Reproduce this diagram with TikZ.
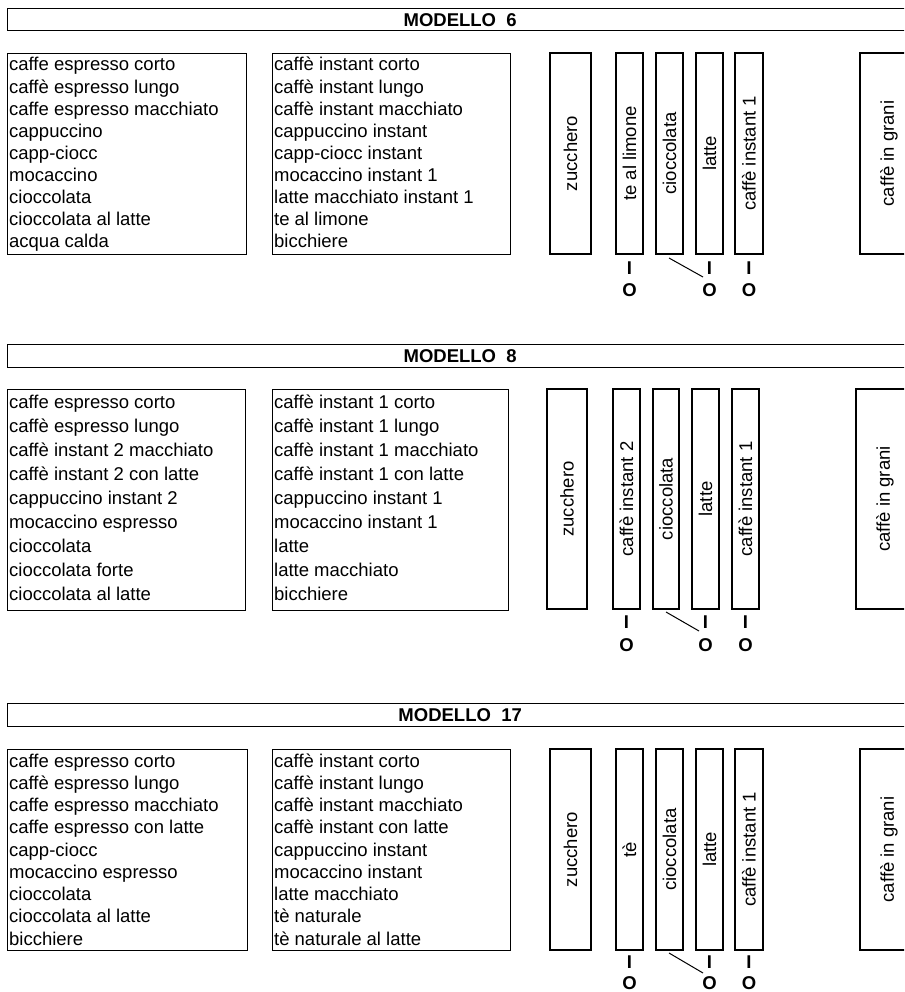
\documentclass[tikz,border=0pt]{standalone}
\usepackage{fontspec}
\setmainfont{Liberation Sans}
\begin{document}
\begin{tikzpicture}[x=1pt,y=-1pt,
  line width=1.3pt,
  every node/.style={font=\fontsize{18.5}{22}\selectfont},
  frame/.style={draw, line width=1.3pt, inner sep=0pt, anchor=north west},
  titlebar/.style={frame, font=\fontsize{18.5}{22}\selectfont\bfseries},
  item/.style={anchor=base west, inner sep=0pt},
  bar/.style={draw, line width=1.3pt, inner sep=0pt, rotate=90},
  io/.style={font=\fontsize{18.5}{22}\selectfont\bfseries, inner sep=0pt},
  link/.style={line width=1pt}
]
\useasboundingbox (0,0) rectangle (904,992);
\clip (0,0) rectangle (904,992);

% ================= MODELLO 6 =================
\node[titlebar, minimum width=905pt, minimum height=22pt] (t1) at (7,8) {MODELLO\ \ 6};
\node[frame, minimum width=239pt, minimum height=201pt] (l1) at (7,53) {};
\node[frame, minimum width=238pt, minimum height=201pt] (r1) at (272,53) {};
\foreach \t [count=\i from 0] in {caffe espresso corto,caffè espresso lungo,caffe espresso macchiato,cappuccino,capp-ciocc,mocaccino,cioccolata,cioccolata al latte,acqua calda}
  \node[item] (l1i\i) at (8.5,71+22.1*\i) {\t};
\foreach \t [count=\i from 0] in {caffè instant corto,caffè instant lungo,caffè instant macchiato,cappuccino instant,capp-ciocc instant,mocaccino instant 1,latte macchiato instant 1,te al limone,bicchiere}
  \node[item] (r1i\i) at (273.5,71+22.1*\i) {\t};
\node[bar, minimum width=201pt, minimum height=41pt] (z1) at (570.5,153.5) {zucchero};
\node[bar, minimum width=201pt, minimum height=27pt] (a1) at (629.5,153.5) {te al limone};
\node[bar, minimum width=201pt, minimum height=27pt] (c1) at (669.5,153.5) {cioccolata};
\node[bar, minimum width=201pt, minimum height=27pt] (m1) at (709.5,153.5) {latte};
\node[bar, minimum width=201pt, minimum height=28pt] (k1) at (749,153.5) {caffè instant 1};
\node[bar, minimum width=201pt, minimum height=58pt] (g1) at (889,153.5) {caffè in grani};
\node[io] (a1I) at (629.5,268) {I};
\node[io] (a1O) at (629.5,290) {O};
\node[io] (m1I) at (709.5,268) {I};
\node[io] (m1O) at (709.5,290) {O};
\node[io] (k1I) at (749,268) {I};
\node[io] (k1O) at (749,290) {O};
\coordinate (d1a) at (669,258);
\coordinate (d1b) at (703,277);
\draw[link] (d1a) -- (d1b);

% ================= MODELLO 8 =================
\node[titlebar, minimum width=905pt, minimum height=23pt] (t2) at (7,344) {MODELLO\ \ 8};
\node[frame, minimum width=238pt, minimum height=221pt] (l2) at (7,389) {};
\node[frame, minimum width=236pt, minimum height=221pt] (r2) at (272,389) {};
\foreach \t [count=\i from 0] in {caffe espresso corto,caffè espresso lungo,caffè instant 2 macchiato,caffè instant 2 con latte,cappuccino instant 2,mocaccino espresso,cioccolata,cioccolata forte,cioccolata al latte}
  \node[item] (l2i\i) at (8.5,408+24.1*\i) {\t};
\foreach \t [count=\i from 0] in {caffè instant 1 corto,caffè instant 1 lungo,caffè instant 1 macchiato,caffè instant 1 con latte,cappuccino instant 1,mocaccino instant 1,latte,latte macchiato,bicchiere}
  \node[item] (r2i\i) at (273.5,408+24.1*\i) {\t};
\node[bar, minimum width=220pt, minimum height=40pt] (z2) at (567,499) {zucchero};
\node[bar, minimum width=220pt, minimum height=27pt] (a2) at (626.5,499) {caffè instant 2};
\node[bar, minimum width=220pt, minimum height=26pt] (c2) at (666,499) {cioccolata};
\node[bar, minimum width=220pt, minimum height=27pt] (m2) at (705.5,499) {latte};
\node[bar, minimum width=220pt, minimum height=27pt] (k2) at (745.5,499) {caffè instant 1};
\node[bar, minimum width=220pt, minimum height=58pt] (g2) at (885,499) {caffè in grani};
\node[io] (a2I) at (626.5,622.5) {I};
\node[io] (a2O) at (626.5,645) {O};
\node[io] (m2I) at (705.5,622.5) {I};
\node[io] (m2O) at (705.5,645) {O};
\node[io] (k2I) at (745.5,622.5) {I};
\node[io] (k2O) at (745.5,645) {O};
\coordinate (d2a) at (666,612);
\coordinate (d2b) at (699,631);
\draw[link] (d2a) -- (d2b);

% ================= MODELLO 17 =================
\node[titlebar, minimum width=905pt, minimum height=23pt] (t3) at (7,703) {MODELLO\ \ 17};
\node[frame, minimum width=240pt, minimum height=201pt] (l3) at (7,749) {};
\node[frame, minimum width=238pt, minimum height=201pt] (r3) at (272,749) {};
\foreach \t [count=\i from 0] in {caffe espresso corto,caffè espresso lungo,caffe espresso macchiato,caffe espresso con latte,capp-ciocc,mocaccino espresso,cioccolata,cioccolata al latte,bicchiere}
  \node[item] (l3i\i) at (8.5,767+22.25*\i) {\t};
\foreach \t [count=\i from 0] in {caffè instant corto,caffè instant lungo,caffè instant macchiato,caffè instant con latte,cappuccino instant,mocaccino instant,latte macchiato,tè naturale,tè naturale al latte}
  \node[item] (r3i\i) at (273.5,767+22.25*\i) {\t};
\node[bar, minimum width=201pt, minimum height=41pt] (z3) at (570.5,849.5) {zucchero};
\node[bar, minimum width=201pt, minimum height=27pt] (a3) at (629.5,849.5) {tè};
\node[bar, minimum width=201pt, minimum height=27pt] (c3) at (669.5,849.5) {cioccolata};
\node[bar, minimum width=201pt, minimum height=27pt] (m3) at (709.5,849.5) {latte};
\node[bar, minimum width=201pt, minimum height=28pt] (k3) at (749,849.5) {caffè instant 1};
\node[bar, minimum width=201pt, minimum height=58pt] (g3) at (889,849.5) {caffè in grani};
\node[io] (a3I) at (629.5,962) {I};
\node[io] (a3O) at (629.5,983.5) {O};
\node[io] (m3I) at (709.5,962) {I};
\node[io] (m3O) at (709.5,983.5) {O};
\node[io] (k3I) at (749,962) {I};
\node[io] (k3O) at (749,983.5) {O};
\coordinate (d3a) at (669,953);
\coordinate (d3b) at (703,973);
\draw[link] (d3a) -- (d3b);
\end{tikzpicture}
\end{document}
